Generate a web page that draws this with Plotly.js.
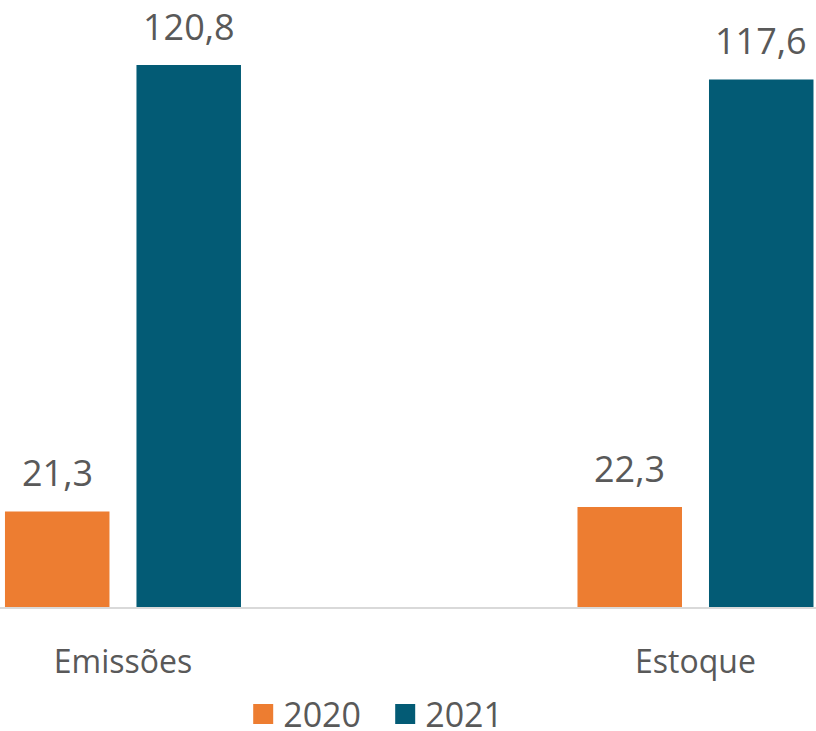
<!DOCTYPE html>
<html><head><meta charset="utf-8">
<script src="https://cdn.plot.ly/plotly-3.0.1.min.js"></script>
<style>html,body{margin:0;padding:0;background:#fff;}#chart{width:816px;height:731px;}</style>
</head><body><div id="chart"></div>
<script>
const categories = ['Emissões', 'Estoque'];
const series2020 = [21.3, 22.3];
const series2021 = [120.8, 117.6];
const seriesNames = ['2020', '2021'];

const colors = ['#ED7D31', '#035B75'];
const fmt = v => v.toFixed(1).replace('.', ',');
const allSeries = [series2020, series2021];
const offsets = [-0.1148, 0.1148];

const traces = allSeries.map((vals, i) => ({
  type: 'bar', name: seriesNames[i], x: categories, y: vals, showlegend: false,
  marker: {color: colors[i]}, hoverinfo: 'none', legendgroup: seriesNames[i]
}));
// legend entries (square swatches) for each series
seriesNames.forEach((n, i) => traces.push({
  type: 'scatter', mode: 'markers', name: n, x: [null], y: [null], legendgroup: n,
  marker: {symbol: 'square', size: 16, color: colors[i], line: {color: colors[i], width: 4}},
  hoverinfo: 'none'
}));

const annotations = [];
allSeries.forEach((vals, i) => vals.forEach((v, j) => {
  annotations.push({x: j + offsets[i], y: v, xref: 'x', yref: 'y', text: fmt(v),
    showarrow: false, yanchor: 'bottom', yshift: 12,
    font: {family: 'Open Sans', size: 36, color: '#595959'}});
}));

const layout = {
  width: 816, height: 731,
  margin: {l: 0, r: 0, t: 0, b: 124, autoexpand: false},
  paper_bgcolor: '#fff', plot_bgcolor: '#fff',
  barmode: 'group', bargap: 0.5406, bargroupgap: 0.2053,
  showlegend: true,
  legend: {orientation: 'h', x: 243.2 / 816, xanchor: 'left', xref: 'container',
    y: -0.177, yanchor: 'middle', yref: 'paper', entrywidth: 97, entrywidthmode: 'pixels',
    font: {family: 'Open Sans', size: 34, color: '#595959'}},
  xaxis: {range: [-0.2148, 1.2105], showline: true, linecolor: '#D9D9D9', linewidth: 2,
    ticks: '', ticklabelstandoff: 26, fixedrange: true, automargin: false,
    tickfont: {family: 'Open Sans', size: 32, color: '#595959'}},
  yaxis: {range: [0, 135.3], visible: false, showgrid: false, zeroline: false, automargin: false},
  annotations: annotations
};
Plotly.newPlot('chart', traces, layout, {displayModeBar: false, staticPlot: true});
</script></body></html>
